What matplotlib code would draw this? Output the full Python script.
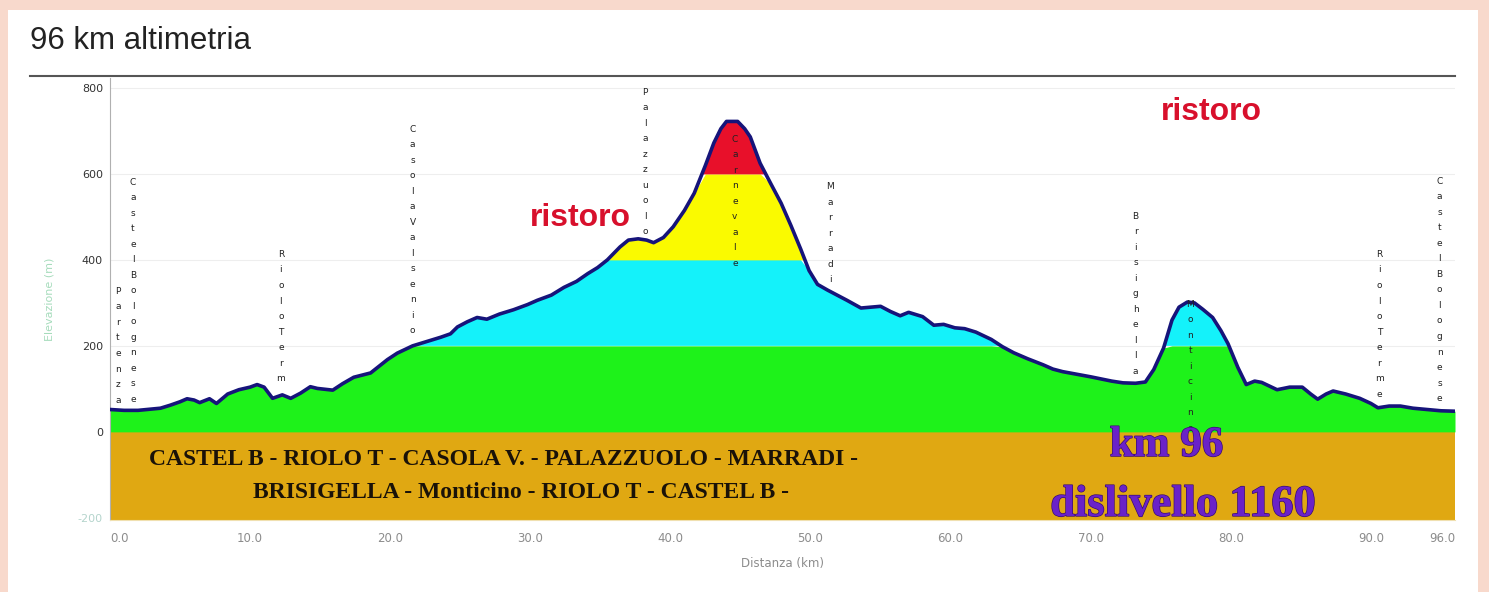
import numpy as np
import matplotlib
matplotlib.use('Agg')
import matplotlib.pyplot as plt
from matplotlib import font_manager
from matplotlib.lines import Line2D
from matplotlib.patches import Rectangle
import matplotlib.patheffects as pe

# elevation profile (km, m)
km = np.array([0.0, 1.0, 2.0, 3.0, 3.6, 4.3, 5.0, 5.5, 6.0, 6.4, 7.1, 7.6, 8.4, 9.2, 10.0,
               10.5, 11.0, 11.6, 12.3, 12.9, 13.6, 14.3, 14.8, 15.9, 16.6, 17.4, 18.6, 19.1,
               19.8, 20.5, 21.6, 22.6, 23.6, 24.3, 24.8, 25.5, 26.2, 26.9, 27.8, 28.8, 29.8,
               30.5, 31.5, 32.4, 33.3, 34.1, 34.8, 35.5, 36.4, 37.0, 37.7, 38.3, 38.8, 39.5,
               40.2, 41.0, 41.7, 42.5, 43.1, 43.6, 44.0, 44.8, 45.3, 45.7, 46.4, 47.2, 47.9,
               48.6, 49.3, 49.9, 50.5, 51.2, 51.9, 52.6, 53.6, 54.3, 55.0, 55.7, 56.4, 57.0,
               58.0, 58.8, 59.5, 60.3, 61.0, 61.8, 62.9, 63.7, 64.5, 65.5, 66.6, 67.3, 68.0,
               69.0, 70.0, 70.6, 71.5, 72.3, 73.2, 73.9, 74.5, 75.2, 75.8, 76.3, 76.9, 77.4,
               78.0, 78.7, 79.3, 79.8, 80.5, 81.1, 81.7, 82.2, 83.3, 84.2, 85.1, 85.7, 86.2,
               86.8, 87.3, 88.2, 89.2, 90.0, 90.5, 91.3, 92.1, 93.0, 94.0, 95.0, 96.0])
elev = np.array([52, 50, 50, 53, 55, 62, 70, 77, 74, 68, 77, 66, 88, 98, 104,
                 110, 104, 78, 86, 78, 90, 105, 101, 97, 112, 127, 137, 150,
                 168, 183, 200, 210, 220, 228, 244, 256, 266, 262, 274, 284, 296,
                 306, 318, 336, 350, 368, 382, 400, 430, 446, 449, 446, 440, 452,
                 477, 515, 555, 620, 672, 705, 722, 722, 705, 686, 625, 575, 532,
                 480, 425, 375, 343, 330, 318, 306, 288, 290, 292, 280, 270, 278,
                 268, 248, 250, 242, 240, 232, 215, 198, 184, 170, 156, 146, 140,
                 134, 128, 124, 118, 114, 113, 116, 145, 195, 260, 290, 302, 300,
                 285, 266, 235, 205, 150, 110, 118, 115, 98, 104, 104, 88, 76,
                 88, 95, 88, 78, 66, 56, 60, 60, 55, 52, 49, 48])

band_edges = [0, 200, 400, 600, 900]
band_colors = ['#1ef21a', '#14f2fa', '#fafa00', '#e8102a']

places = ['Partenza', 'CastelBolognese', 'RioloTerm', 'CasolaValsenio', 'Palazzuolo',
          'Carnevale', 'Marradi', 'Brisighella', 'Monticino', 'RioloTerme', 'CastelBolognese']
place_km = [0.57, 1.64, 12.2, 21.6, 38.2, 44.6, 51.4, 73.2, 77.1, 90.6, 94.9]
place_top = [337, 591, 423, 714, 800, 691, 581, 512, 307, 423, 593]

xticks = [0, 10, 20, 30, 40, 50, 60, 70, 80, 90, 96]
xticklabels = ['0.0', '10.0', '20.0', '30.0', '40.0', '50.0', '60.0', '70.0', '80.0', '90.0', '96.0']
yticks = [-200, 0, 200, 400, 600, 800]

route1 = 'CASTEL B - RIOLO T - CASOLA V. - PALAZZUOLO - MARRADI -'
route2 = 'BRISIGELLA - Monticino - RIOLO T - CASTEL B -'

installed = {f.name for f in font_manager.fontManager.ttflist}


def pick(*names):
    found = [n for n in names if n in installed]
    return found + ['DejaVu Sans']


W, H = 1489, 592
fig = plt.figure(figsize=(W / 100, H / 100), dpi=100, facecolor='#f8d9cc')
fig.add_artist(Rectangle((8 / W, 0), 1470 / W, 1 - 10 / H, transform=fig.transFigure,
                         facecolor='white', edgecolor='none', zorder=0))
fig.text(30 / W, 1 - 41 / H, '96 km altimetria', fontsize=22.5, color='#222222',
         family=pick('Liberation Sans', 'Arimo'), va='center', ha='left')
fig.add_artist(Line2D([30 / W, 1455 / W], [1 - 76 / H, 1 - 76 / H], transform=fig.transFigure,
                      color='#555555', lw=1.5))

ax = fig.add_axes([110 / W, 1 - 520 / H, (1455 - 110) / W, (520 - 78) / H])
ax.set_facecolor('white')
ax.set_xlim(0, 96)
ax.set_ylim(-205, 823)

for y in [200, 400, 600, 800]:
    ax.axhline(y, color='#eeeeee', lw=0.8, zorder=0)

# brown ground under zero
ax.axhspan(-205, 0, color='#e0a812', zorder=1)

for lo, hi, c in zip(band_edges[:-1], band_edges[1:], band_colors):
    ax.fill_between(km, lo, np.minimum(elev, hi), where=elev > lo, interpolate=True,
                    color=c, lw=0, zorder=2)
ax.plot(km, elev, color='#16147a', lw=2.6, zorder=3, solid_joinstyle='round')

for name, x, top in zip(places, place_km, place_top):
    ax.text(x, top, '\n'.join(name), fontsize=6.5, color='#222222', ha='center', va='top',
            linespacing=1.93, zorder=4)

red_font = pick('Liberation Sans Narrow', 'DejaVu Sans Condensed', 'Liberation Sans')
for x, y in [(33.6, 498), (78.6, 744)]:
    ax.text(x, y, 'ristoro', fontsize=23, fontweight='bold', color='#d8102c',
            family=red_font, ha='center', va='center', zorder=5)

black_font = pick('Liberation Sans Narrow', 'DejaVu Sans Condensed', 'Liberation Serif')
ax.text(28.1, -65, route1, fontsize=17, fontweight='bold', color='#1a1208',
        family=black_font, ha='center', va='center', zorder=5)
ax.text(29.3, -142, route2, fontsize=17, fontweight='bold', color='#1a1208',
        family=black_font, ha='center', va='center', zorder=5)

purple_font = pick('Liberation Serif', 'DejaVu Serif')
stroke = [pe.withStroke(linewidth=1.0, foreground='#3a0c70')]
ax.text(75.4, -33, 'km 96', fontsize=31, fontweight='bold', color='#6a22c8',
        family=purple_font, ha='center', va='center', zorder=5, path_effects=stroke)
ax.text(76.6, -170, 'dislivello 1160', fontsize=32, fontweight='bold', color='#6a22c8',
        family=purple_font, ha='center', va='center', zorder=5, path_effects=stroke)

ax.set_xticks(xticks)
ax.set_xticklabels(xticklabels)
ax.set_yticks(yticks)
ax.set_yticklabels([str(v) for v in yticks])
ax.tick_params(axis='x', length=0, pad=9, labelsize=8.5, labelcolor='#8c8c8c')
ax.tick_params(axis='y', length=0, pad=5, labelsize=8, labelcolor='#333333')
xl = ax.get_xticklabels()
xl[0].set_ha('left')
xl[-1].set_ha('right')
ax.get_yticklabels()[0].set_color('#b4d4cc')

ax.set_xlabel('Distanza (km)', fontsize=8.5, color='#8c8c8c', labelpad=8)
ax.set_ylabel('Elevazione (m)', fontsize=8, color='#a6dcbc', labelpad=17)

for s in ['top', 'right']:
    ax.spines[s].set_visible(False)
ax.spines['left'].set_color('#b0b0b0')
ax.spines['bottom'].set_color('#f0e0b0')

fig.savefig('out.png', dpi=100, facecolor=fig.get_facecolor())
